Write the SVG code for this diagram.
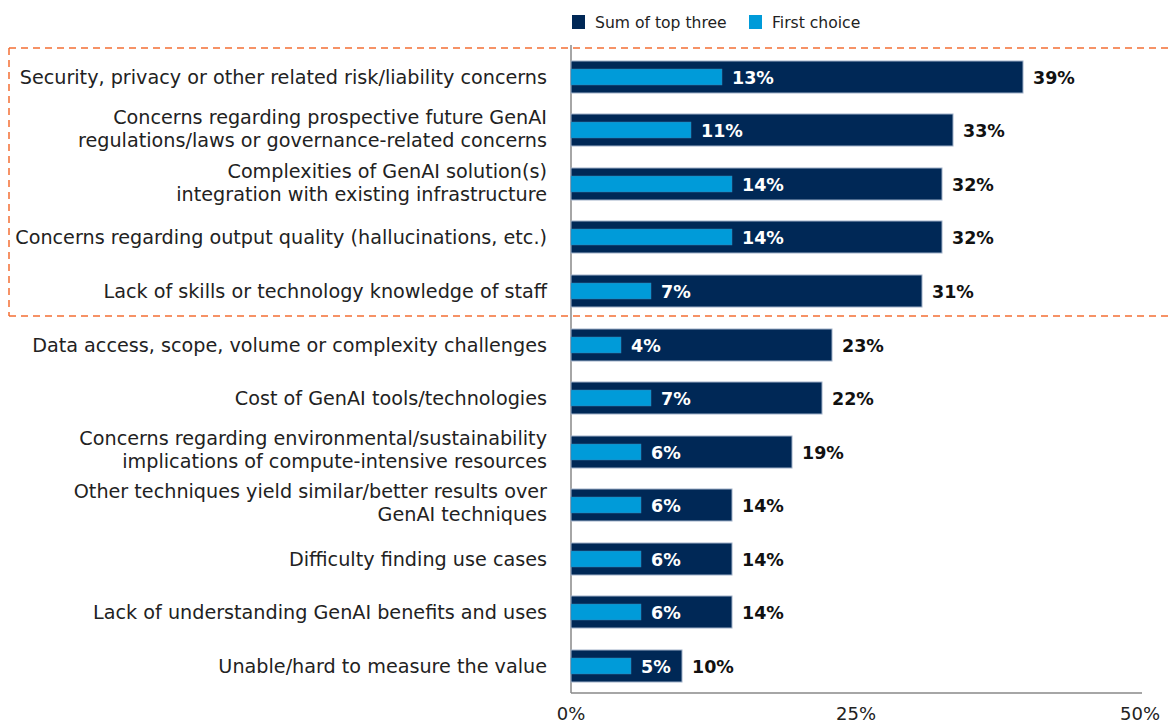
<svg xmlns="http://www.w3.org/2000/svg" width="1170" height="724" viewBox="0 0 1170 724">
<style>
.lbl{font-family:"DejaVu Sans","Liberation Sans",sans-serif;font-size:19.2px;fill:#222;text-anchor:end}
.leg{font-family:"DejaVu Sans","Liberation Sans",sans-serif;font-size:15.6px;fill:#222}
.ax{font-family:"DejaVu Sans","Liberation Sans",sans-serif;font-size:18px;fill:#222;text-anchor:middle}
.vin{font-family:"DejaVu Sans","Liberation Sans",sans-serif;font-size:17.5px;font-weight:bold;fill:#fff}
.vout{font-family:"DejaVu Sans","Liberation Sans",sans-serif;font-size:17.5px;font-weight:bold;fill:#111}
.dk{fill:#002856;stroke:#9fb0c8;stroke-width:1}
.lt{fill:#009bd9;stroke:#3a7fb0;stroke-width:0.5}
</style>
<rect width="1170" height="724" fill="#fff"/>
<g id="legend">
<rect x="572" y="15" width="13" height="14" fill="#002856"/>
<text class="leg" x="595" y="28">Sum of top three</text>
<rect x="749" y="15" width="13" height="14" fill="#009bd9"/>
<text class="leg" x="772" y="28">First choice</text>
</g>
<g id="highlight">
<path d="M9,48 H1170 M9,48 V316 M9,316 H1170" fill="none" stroke="#f36f34" stroke-width="1.5" stroke-dasharray="7,5"/>
</g>
<g id="axes">
<line x1="571" y1="45" x2="571" y2="693" stroke="#888" stroke-width="1.5"/>
<line x1="571" y1="693" x2="1142" y2="693" stroke="#888" stroke-width="1.5"/>
<text class="ax" x="571" y="720">0%</text>
<text class="ax" x="856" y="720">25%</text>
<text class="ax" x="1140" y="720">50%</text>
</g>
<g id="row1">
<text class="lbl" x="547" y="84">Security, privacy or other related risk/liability concerns</text>
<rect class="dk" x="571" y="61" width="452" height="32"/>
<rect class="lt" x="571" y="69" width="151" height="16"/>
<text class="vin" x="732" y="83.5">13%</text>
<text class="vout" x="1033" y="83.5">39%</text>
</g>
<g id="row2">
<text class="lbl" x="547" y="124">Concerns regarding prospective future GenAI</text>
<text class="lbl" x="547" y="147">regulations/laws or governance-related concerns</text>
<rect class="dk" x="571" y="114" width="382" height="32"/>
<rect class="lt" x="571" y="122" width="120" height="16"/>
<text class="vin" x="701" y="136.5">11%</text>
<text class="vout" x="963" y="137">33%</text>
</g>
<g id="row3">
<text class="lbl" x="547" y="178">Complexities of GenAI solution(s)</text>
<text class="lbl" x="547" y="201">integration with existing infrastructure</text>
<rect class="dk" x="571" y="168" width="371" height="32"/>
<rect class="lt" x="571" y="176" width="161" height="16"/>
<text class="vin" x="742" y="190.5">14%</text>
<text class="vout" x="952" y="191">32%</text>
</g>
<g id="row4">
<text class="lbl" x="547" y="244">Concerns regarding output quality (hallucinations, etc.)</text>
<rect class="dk" x="571" y="221" width="371" height="32"/>
<rect class="lt" x="571" y="229" width="161" height="16"/>
<text class="vin" x="742" y="243.5">14%</text>
<text class="vout" x="952" y="244">32%</text>
</g>
<g id="row5">
<text class="lbl" x="547" y="298">Lack of skills or technology knowledge of staff</text>
<rect class="dk" x="571" y="275" width="351" height="32"/>
<rect class="lt" x="571" y="283" width="80" height="16"/>
<text class="vin" x="661" y="297.5">7%</text>
<text class="vout" x="932" y="298">31%</text>
</g>
<g id="row6">
<text class="lbl" x="547" y="352">Data access, scope, volume or complexity challenges</text>
<rect class="dk" x="571" y="329" width="261" height="32"/>
<rect class="lt" x="571" y="337" width="50" height="16"/>
<text class="vin" x="631" y="351.5">4%</text>
<text class="vout" x="842" y="352">23%</text>
</g>
<g id="row7">
<text class="lbl" x="547" y="405">Cost of GenAI tools/technologies</text>
<rect class="dk" x="571" y="382" width="251" height="32"/>
<rect class="lt" x="571" y="390" width="80" height="16"/>
<text class="vin" x="661" y="404.5">7%</text>
<text class="vout" x="832" y="405">22%</text>
</g>
<g id="row8">
<text class="lbl" x="547" y="445">Concerns regarding environmental/sustainability</text>
<text class="lbl" x="547" y="468">implications of compute-intensive resources</text>
<rect class="dk" x="571" y="436" width="221" height="32"/>
<rect class="lt" x="571" y="444" width="70" height="16"/>
<text class="vin" x="651" y="458.5">6%</text>
<text class="vout" x="802" y="459">19%</text>
</g>
<g id="row9">
<text class="lbl" x="547" y="498">Other techniques yield similar/better results over</text>
<text class="lbl" x="547" y="521">GenAI techniques</text>
<rect class="dk" x="571" y="489" width="161" height="32"/>
<rect class="lt" x="571" y="497" width="70" height="16"/>
<text class="vin" x="651" y="511.5">6%</text>
<text class="vout" x="742" y="512">14%</text>
</g>
<g id="row10">
<text class="lbl" x="547" y="566">Difficulty finding use cases</text>
<rect class="dk" x="571" y="543" width="161" height="32"/>
<rect class="lt" x="571" y="551" width="70" height="16"/>
<text class="vin" x="651" y="565.5">6%</text>
<text class="vout" x="742" y="566">14%</text>
</g>
<g id="row11">
<text class="lbl" x="547" y="619">Lack of understanding GenAI benefits and uses</text>
<rect class="dk" x="571" y="596" width="161" height="32"/>
<rect class="lt" x="571" y="604" width="70" height="16"/>
<text class="vin" x="651" y="618.5">6%</text>
<text class="vout" x="742" y="619">14%</text>
</g>
<g id="row12">
<text class="lbl" x="547" y="673">Unable/hard to measure the value</text>
<rect class="dk" x="571" y="650" width="111" height="32"/>
<rect class="lt" x="571" y="658" width="60" height="16"/>
<text class="vin" x="641" y="672.5">5%</text>
<text class="vout" x="692" y="673">10%</text>
</g>
</svg>
